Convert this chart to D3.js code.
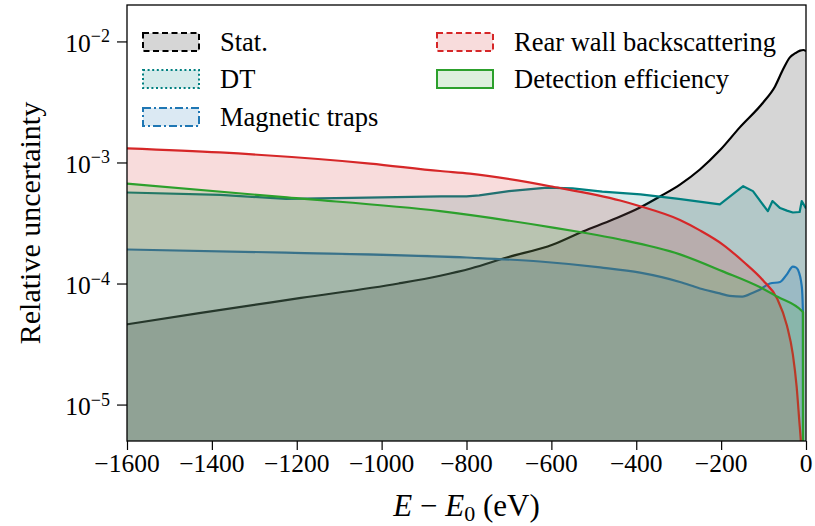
<!DOCTYPE html>
<html>
<head>
<meta charset="utf-8">
<script src="https://cdn.jsdelivr.net/npm/d3@7"></script>
<style>
  body { margin: 0; background: #fff; }
  text { font-family: "Liberation Serif", "DejaVu Serif", serif; fill: #000; }
</style>
</head>
<body>
<div id="chart"></div>
<script>
// values (E - E0 in eV, relative uncertainty)
const statE = [-1600, -1430, -1190, -960, -862, -790, -705, -596, -526, -455, -391, -344, -297, -250, -203, -156, -101, -73, -54, -38, -25, -14, -6, 0];
const statV = [4.6e-5, 5.7e-5, 7.6e-5, 1.0e-4, 1.16e-4, 1.33e-4, 1.64e-4, 2.1e-4, 2.69e-4, 3.38e-4, 4.25e-4, 5.24e-4, 6.57e-4, 8.75e-4, 1.26e-3, 1.95e-3, 3.13e-3, 4.25e-3, 5.88e-3, 7.38e-3, 8.0e-3, 8.4e-3, 8.5e-3, 8.3e-3];

const dtE = [-1600, -1380, -1225, -1070, -860, -800, -770, -700, -610, -550, -480, -390, -300, -203, -148, -125, -90, -79, -61, -45, -31, -15, -10, 0];
const dtV = [5.65e-4, 5.4e-4, 5.0e-4, 5.1e-4, 5.24e-4, 5.24e-4, 5.35e-4, 5.8e-4, 6.2e-4, 6.1e-4, 5.75e-4, 5.45e-4, 5.0e-4, 4.5e-4, 6.37e-4, 5.8e-4, 3.96e-4, 4.8e-4, 4.2e-4, 4.0e-4, 3.86e-4, 3.9e-4, 4.8e-4, 4.17e-4];

const mtE = [-1600, -1225, -800, -627, -485, -391, -297, -250, -203, -180, -150, -125, -109, -85, -61, -45, -31, -24, -19, -10, -7.4, -6.5];
const mtV = [1.91e-4, 1.8e-4, 1.64e-4, 1.52e-4, 1.36e-4, 1.23e-4, 1.03e-4, 9.1e-5, 8.3e-5, 7.9e-5, 7.8e-5, 8.4e-5, 8.9e-5, 1.0e-4, 1.03e-4, 1.19e-4, 1.38e-4, 1.36e-4, 1.3e-4, 9.5e-5, 6.1e-5, 1e-8];

const rwE = [-1600, -1381, -1027, -862, -792, -596, -438, -391, -297, -250, -196, -148, -101, -68, -45, -31, -22, -16, -12, -9];
const rwV = [1.31e-3, 1.21e-3, 9.8e-4, 8.5e-4, 8.1e-4, 6.3e-4, 4.85e-4, 4.35e-4, 3.35e-4, 2.75e-4, 2.1e-4, 1.52e-4, 1.06e-4, 7.5e-5, 4.5e-5, 2.6e-5, 1.4e-5, 7.5e-6, 4.9e-6, 3e-6];

const deE = [-1600, -1223, -862, -596, -526, -438, -297, -196, -108, -68, -9, -7, -6.5];
const deV = [6.7e-4, 5.14e-4, 3.96e-4, 2.9e-4, 2.64e-4, 2.31e-4, 1.74e-4, 1.26e-4, 9.3e-5, 7.8e-5, 5.9e-5, 5.8e-5, 1e-8];

const seriesNames = ["Stat.", "DT", "Magnetic traps", "Rear wall backscattering", "Detection efficiency"];
const xTicks = [-1600, -1400, -1200, -1000, -800, -600, -400, -200, 0];
const yTicks = [1e-5, 1e-4, 1e-3, 1e-2];
const yExps = [-5, -4, -3, -2];

const series = [
  {name: seriesNames[0], E: statE, V: statV, color: "#000000", dash: "6,3.5", smooth: true},
  {name: seriesNames[1], E: dtE, V: dtV, color: "#008080", dash: "2,2.6", smooth: false},
  {name: seriesNames[2], E: mtE, V: mtV, color: "#1f77b4", dash: "8,3,2,3", smooth: true},
  {name: seriesNames[3], E: rwE, V: rwV, color: "#d62728", dash: "6,3.5", smooth: true},
  {name: seriesNames[4], E: deE, V: deV, color: "#2ca02c", dash: null, smooth: true}
];

const W = 815, H = 526;
const mLeft = 127, mRight = 806, mTop = 5, mBottom = 441;

const svg = d3.select("#chart").append("svg")
    .attr("width", W).attr("height", H);

const x = d3.scaleLinear().domain([-1600, 0]).range([mLeft, mRight]);
const y = d3.scaleLog().domain([5e-6, 2e-2]).range([mBottom, mTop]);

svg.append("clipPath").attr("id", "plotclip")
  .append("rect").attr("x", mLeft).attr("y", mTop)
  .attr("width", mRight - mLeft).attr("height", mBottom - mTop);

const plot = svg.append("g").attr("clip-path", "url(#plotclip)");

// each component: shaded area first, then its line (later fills tint earlier lines)
series.forEach(function (s) {
    const pts = s.E.map((e, i) => [e, s.V[i]]);
    const curve = s.smooth ? d3.curveMonotoneX : d3.curveLinear;
    const area = d3.area()
        .x(d => x(d[0]))
        .y0(mBottom + 40)
        .y1(d => y(d[1]))
        .curve(curve);
    const line = d3.line()
        .x(d => x(d[0]))
        .y(d => y(d[1]))
        .curve(curve);
    plot.append("path").datum(pts)
        .attr("d", area)
        .attr("fill", s.color)
        .attr("fill-opacity", 0.16);
    plot.append("path").datum(pts)
        .attr("d", line)
        .attr("fill", "none")
        .attr("stroke", s.color)
        .attr("stroke-width", 2.2)
        .attr("stroke-linejoin", "round");
});

// x axis
const xMinor = d3.range(-1600, 1, 50).filter(v => v % 200 !== 0);
const xAxis = svg.append("g").attr("transform", "translate(0," + mBottom + ")");
xAxis.call(d3.axisBottom(x).tickValues(xMinor).tickSize(5).tickFormat(""));
xAxis.call(d3.axisBottom(x).tickValues(xTicks).tickSize(9).tickFormat(""));
xAxis.selectAll(".domain").remove();
xAxis.selectAll("line").attr("stroke-width", 1.2);

svg.append("g").selectAll("text")
  .data(xTicks).enter().append("text")
    .attr("x", d => x(d))
    .attr("y", 472)
    .attr("text-anchor", "middle")
    .style("font-size", "25.5px")
    .text(d => d === 0 ? "0" : "\u2212" + Math.abs(d));

// y axis
const yMinor = [];
[-6, -5, -4, -3, -2].forEach(function (p) {
    for (let k = 2; k <= 9; k++) {
        const v = k * Math.pow(10, p);
        if (v >= 5e-6 && v <= 2e-2) yMinor.push(v);
    }
});
const yAxis = svg.append("g").attr("transform", "translate(" + mLeft + ",0)");
yAxis.call(d3.axisLeft(y).tickValues(yMinor).tickSize(5.5).tickFormat(""));
yAxis.call(d3.axisLeft(y).tickValues(yTicks).tickSize(10).tickFormat(""));
yAxis.selectAll(".domain").remove();
yAxis.selectAll("line").attr("stroke-width", 1.2);

const yLab = svg.append("g").selectAll("text")
  .data(yTicks).enter().append("text")
    .attr("x", 110)
    .attr("y", d => y(d) + 10.5)
    .attr("text-anchor", "end")
    .style("font-size", "25.5px");
yLab.append("tspan").text("10");
yLab.append("tspan")
    .attr("dy", -9.5)
    .style("font-size", "18px")
    .text((d, i) => "\u2212" + Math.abs(yExps[i]));

// frame
svg.append("rect")
    .attr("x", mLeft).attr("y", mTop)
    .attr("width", mRight - mLeft).attr("height", mBottom - mTop)
    .attr("fill", "none").attr("stroke", "#000").attr("stroke-width", 1.3);

// axis titles
svg.append("text")
    .attr("transform", "translate(40," + ((mTop + mBottom) / 2) + ") rotate(-90)")
    .attr("text-anchor", "middle")
    .style("font-size", "30px")
    .text("Relative uncertainty");

const xt = svg.append("text")
    .attr("x", (mLeft + mRight) / 2)
    .attr("y", 516)
    .attr("text-anchor", "middle")
    .style("font-size", "31px");
xt.append("tspan").style("font-style", "italic").text("E");
xt.append("tspan").text(" \u2212 ");
xt.append("tspan").style("font-style", "italic").text("E");
xt.append("tspan").attr("dy", 5).style("font-size", "22px").text("0");
xt.append("tspan").attr("dy", -5).text(" (eV)");

// legend, two columns
const legendPos = [[143, 33], [143, 70], [143, 108], [437, 33], [437, 70]];
const leg = svg.append("g");
series.forEach(function (s, i) {
    const p = legendPos[i];
    leg.append("rect")
        .attr("x", p[0]).attr("y", p[1])
        .attr("width", 56).attr("height", 18)
        .attr("fill", s.color).attr("fill-opacity", 0.16);
    leg.append("rect")
        .attr("x", p[0]).attr("y", p[1])
        .attr("width", 56).attr("height", 18)
        .attr("fill", "none")
        .attr("stroke", s.color)
        .attr("stroke-width", 2)
        .attr("stroke-dasharray", s.dash);
    leg.append("text")
        .attr("x", p[0] + 77)
        .attr("y", p[1] + 18)
        .style("font-size", "26.5px")
        .text(s.name);
});
</script>
</body>
</html>
